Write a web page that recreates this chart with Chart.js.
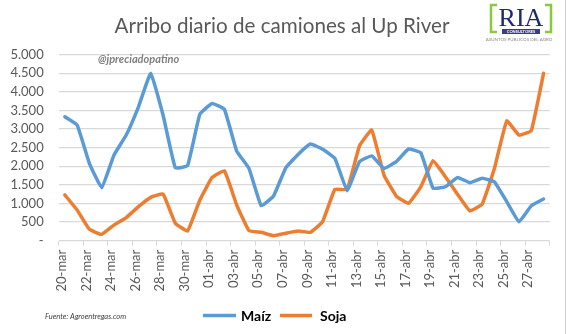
<!DOCTYPE html>
<html><head><meta charset="utf-8">
<script src="https://cdn.jsdelivr.net/npm/chart.js@4/dist/chart.umd.min.js"></script>
<style>html,body{margin:0;padding:0;background:#fff;}canvas{display:block;}</style>
</head><body>
<canvas id="c" width="567" height="334"></canvas>
<script>
const categories = ["20-mar","21-mar","22-mar","23-mar","24-mar","25-mar","26-mar","27-mar","28-mar","29-mar","30-mar","31-mar",
"01-abr","02-abr","03-abr","04-abr","05-abr","06-abr","07-abr","08-abr","09-abr","10-abr","11-abr","12-abr","13-abr","14-abr",
"15-abr","16-abr","17-abr","18-abr","19-abr","20-abr","21-abr","22-abr","23-abr","24-abr","25-abr","26-abr","27-abr","28-abr"];
const maiz = [3330,3110,2080,1425,2300,2840,3600,4500,3380,1960,2020,3400,3690,3530,2410,1945,940,1200,1960,2320,2600,2460,2215,1345,2125,2280,1945,2125,2465,2365,1410,1450,1700,1560,1680,1580,1050,510,940,1120];
const soja = [1230,825,305,170,420,620,915,1165,1255,470,260,1095,1700,1880,960,270,225,135,200,260,225,510,1380,1380,2545,2975,1765,1200,1005,1450,2150,1720,1245,800,985,1945,3220,2840,2960,4500];
const seriesNames = ["Maíz","Soja"];
const yTicks = {min:0, max:5000, step:500};
const titleText = "Arribo diario de camiones al Up River";
const handleText = "@jpreciadopatino";
const sourceText = "Fuente: Agroentregas.com";

const FONT = "Lato, 'Open Sans', sans-serif";
const GRID = "#d9d9d9";
const TXT = "#595959";

function fmt(v){ if (v===0) return "-"; return String(v).replace(/\B(?=(\d{3})+(?!\d))/g, "."); }

const deco = {
  id:'deco',
  afterDraw(chart){
    const ctx = chart.ctx;
    ctx.save();
    // right border
    ctx.strokeStyle = "#d0d0d0"; ctx.lineWidth = 1;
    ctx.beginPath(); ctx.moveTo(565.5,0); ctx.lineTo(565.5,334); ctx.stroke();
    // title
    ctx.fillStyle = TXT; ctx.textBaseline = "alphabetic"; ctx.textAlign = "left";
    ctx.font = "20px " + FONT;
    let w = ctx.measureText(titleText).width;
    let fs = 20 * 335 / w;
    ctx.font = fs.toFixed(2) + "px " + FONT;
    w = ctx.measureText(titleText).width;
    ctx.fillText(titleText, 282 - w/2, 33);
    // handle
    ctx.fillStyle = "#7f7f7f";
    ctx.font = "italic bold 11px " + FONT;
    ctx.fillText(handleText, 98, 63);
    // source
    ctx.fillStyle = "#404040";
    ctx.font = "italic 7.5px " + FONT;
    ctx.fillText(sourceText, 45, 319);
    // legend
    const ds = chart.data.datasets;
    const items = [{x1:203,x2:236,tx:241},{x1:280,x2:312,tx:320}];
    ctx.font = "bold 14px " + FONT;
    items.forEach((it,i)=>{
      ctx.strokeStyle = ds[i].borderColor; ctx.lineWidth = 3.5; ctx.lineCap = "butt";
      ctx.beginPath(); ctx.moveTo(it.x1,315.5); ctx.lineTo(it.x2,315.5); ctx.stroke();
      ctx.fillStyle = "#000"; ctx.fillText(ds[i].label, it.tx, 321);
    });
    // logo
    ctx.strokeStyle = "#8dc63f"; ctx.lineWidth = 2.5;
    ctx.beginPath(); ctx.moveTo(497,5); ctx.lineTo(491,5); ctx.lineTo(491,32); ctx.lineTo(497,32); ctx.stroke();
    ctx.beginPath(); ctx.moveTo(545,5); ctx.lineTo(551,5); ctx.lineTo(551,32); ctx.lineTo(545,32); ctx.stroke();
    ctx.fillStyle = "#1f2a6b";
    ctx.font = "26px 'Liberation Serif', serif";
    ctx.textAlign = "center";
    ctx.fillText("RIA", 521, 26);
    ctx.fillStyle = "#3d3a8c";
    ctx.fillRect(502, 29, 38, 5);
    ctx.fillStyle = "#fff"; ctx.font = "bold 4px " + FONT;
    ctx.fillText("CONSULTORES", 521, 33.2);
    ctx.fillStyle = "#8a8a8a"; ctx.font = "4.5px " + FONT;
    ctx.fillText("ASUNTOS PÚBLICOS DEL AGRO", 519, 41);
    ctx.restore();
  }
};

new Chart(document.getElementById('c'), {
  type:'line',
  data:{
    labels: categories,
    datasets:[
      {label: seriesNames[0], data: maiz, borderColor:"#5b9bd5", backgroundColor:"#5b9bd5", borderWidth:3.5, pointRadius:0, tension:0.1, borderJoinStyle:'round', borderCapStyle:'round'},
      {label: seriesNames[1], data: soja, borderColor:"#ed7d31", backgroundColor:"#ed7d31", borderWidth:3.5, pointRadius:0, tension:0.1, borderJoinStyle:'round', borderCapStyle:'round'}
    ]
  },
  options:{
    responsive:false, animation:false, devicePixelRatio:1,
    layout:{padding:{top:54.7,right:17.3,left:0,bottom:0}},
    plugins:{legend:{display:false}, title:{display:false}, tooltip:{enabled:false}},
    scales:{
      x:{
        offset:true,
        afterFit(s){ s.height = 334 - 240.7; },
        grid:{offset:true, drawOnChartArea:false, drawTicks:true, tickLength:5,
              color:(c)=> (c.index===undefined || c.index%2===0) ? GRID : 'rgba(0,0,0,0)'},
        border:{display:false},
        ticks:{autoSkip:false, minRotation:90, maxRotation:90, padding:4, labelOffset:-3,
               color:TXT, font:{family:FONT, size:13},
               callback:(v,i)=> i%2===0 ? categories[i] : ''}
      },
      y:{
        min:yTicks.min, max:yTicks.max,
        afterFit(s){ s.width = 58.7; },
        grid:{color:GRID, lineWidth:1.3, drawTicks:false},
        border:{display:false},
        ticks:{stepSize:yTicks.step, padding:15, color:TXT, font:{family:FONT, size:13}, callback:(v)=>fmt(v)}
      }
    }
  },
  plugins:[deco]
});
</script>
</body></html>
